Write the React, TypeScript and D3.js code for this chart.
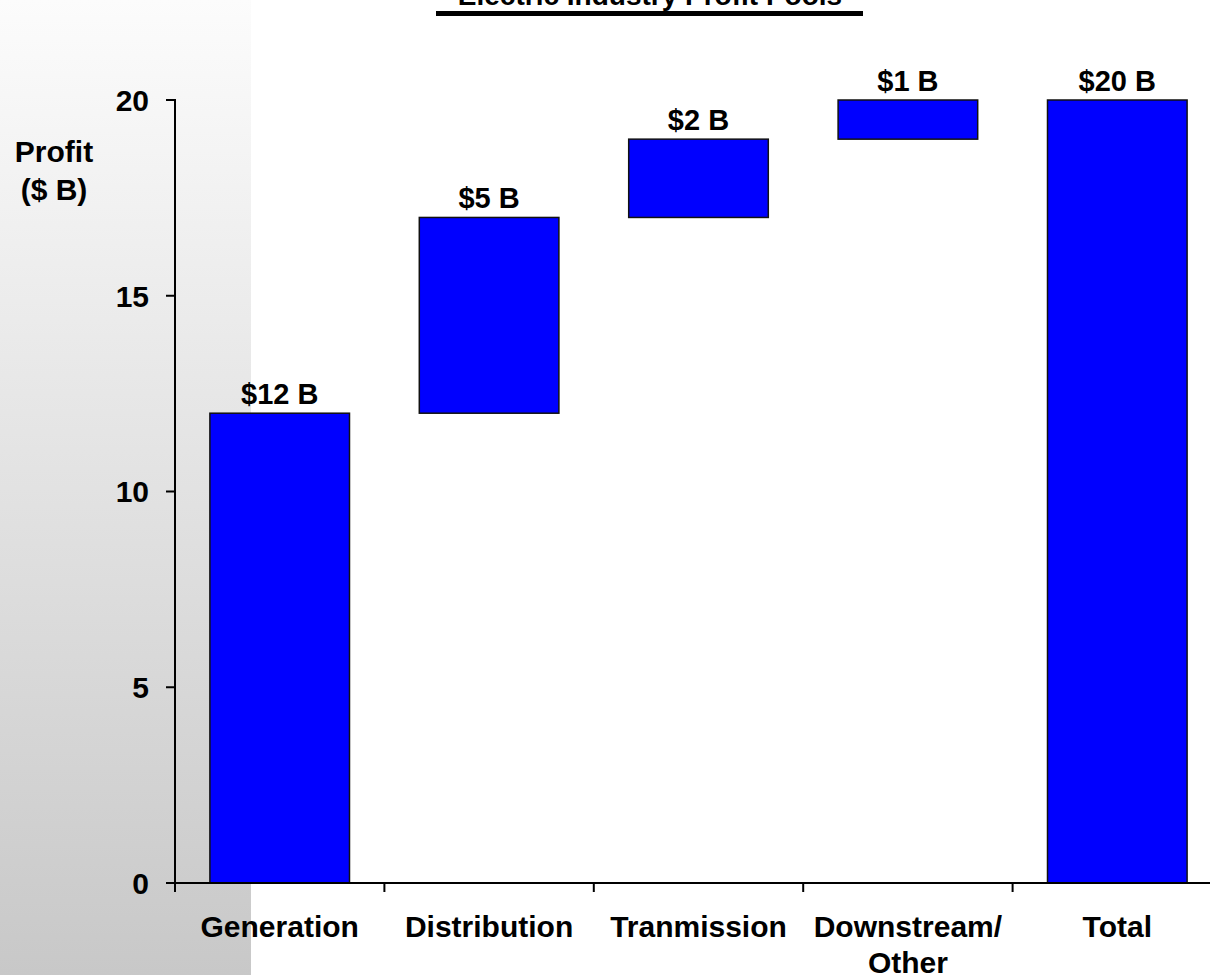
import React from "react";
import * as d3 from "d3";

// Waterfall data: each segment's profit contribution, plus the total bar
const categories: string[] = ["Generation", "Distribution", "Tranmission", "Downstream/\nOther", "Total"];
const values: number[] = [12, 5, 2, 1, 20];
const isTotal: boolean[] = [false, false, false, false, true];
const yTicks: number[] = [0, 5, 10, 15, 20];
const valueLabels: string[] = ["$12 B", "$5 B", "$2 B", "$1 B", "$20 B"];

const W = 1210;
const H = 975;
const FONT = "'Liberation Sans', Arial, Helvetica, sans-serif";

export default function App() {
  const x = d3
    .scaleBand<string>()
    .domain(categories)
    .range([175, 1222])
    .paddingInner(1 / 3)
    .paddingOuter(1 / 6);
  const y = d3.scaleLinear().domain([0, 20]).range([883, 100]);

  // running cumulative start/end for each waterfall step
  let running = 0;
  const bars = categories.map((c, i) => {
    let lo: number, hi: number;
    if (isTotal[i]) {
      lo = 0;
      hi = values[i];
    } else {
      lo = running;
      hi = running + values[i];
      running = hi;
    }
    return { c, lo, hi, label: valueLabels[i] };
  });

  const step = x.step();
  const x0 = 175;
  const tickXs = categories.map((_, i) => x0 + i * step);

  return (
    <svg
      width={W}
      height={H}
      style={{ position: "absolute", left: 0, top: 0, display: "block", background: "#fff" }}
      fontFamily={FONT}
    >
      <defs>
        <linearGradient id="sideShade" x1="0" y1="0" x2="0" y2="1">
          <stop offset="0" stopColor="#fcfcfc" />
          <stop offset="0.5" stopColor="#e2e2e2" />
          <stop offset="1" stopColor="#c8c8c8" />
        </linearGradient>
      </defs>
      <rect x={0} y={0} width={251} height={H} fill="url(#sideShade)" />

      {/* title */}
      <text x={650} y={5} textAnchor="middle" fontSize={28} fontWeight="bold" fill="#000">
        Electric Industry Profit Pools
      </text>
      <rect x={436} y={11} width={427} height={5} fill="#000" />

      {/* y axis label */}
      <text x={54} y={162} textAnchor="middle" fontSize={30} fontWeight="bold" fill="#000">
        Profit
      </text>
      <text x={54} y={200} textAnchor="middle" fontSize={30} fontWeight="bold" fill="#000">
        ($ B)
      </text>

      {/* bars */}
      {bars.map((b) => (
        <g key={b.c}>
          <rect
            x={x(b.c)!}
            y={y(b.hi)}
            width={x.bandwidth()}
            height={y(b.lo) - y(b.hi)}
            fill="#0000ff"
            stroke="#111"
            strokeWidth={1.5}
          />
          <text
            x={x(b.c)! + x.bandwidth() / 2}
            y={y(b.hi) - 9}
            textAnchor="middle"
            fontSize={29}
            fontWeight="bold"
            fill="#000"
          >
            {b.label}
          </text>
        </g>
      ))}

      {/* y axis */}
      <line x1={175} x2={175} y1={y(20) - 1} y2={y(0)} stroke="#000" strokeWidth={2} />
      {yTicks.map((t) => (
        <g key={t}>
          <line x1={166} x2={175} y1={y(t)} y2={y(t)} stroke="#000" strokeWidth={2} />
          <text
            x={149}
            y={y(t)}
            dy="0.36em"
            textAnchor="end"
            fontSize={30}
            fontWeight="bold"
            fill="#000"
          >
            {t}
          </text>
        </g>
      ))}

      {/* x axis */}
      <line x1={175} x2={W} y1={y(0)} y2={y(0)} stroke="#000" strokeWidth={2} />
      {tickXs.map((tx, i) => (
        <line key={i} x1={tx} x2={tx} y1={y(0)} y2={y(0) + 9} stroke="#000" strokeWidth={2} />
      ))}
      {categories.map((c) => {
        const lines = c.split("\n");
        return (
          <text
            key={c}
            x={x(c)! + x.bandwidth() / 2}
            y={937}
            textAnchor="middle"
            fontSize={30}
            fontWeight="bold"
            fill="#000"
          >
            {lines.map((ln, j) => (
              <tspan key={j} x={x(c)! + x.bandwidth() / 2} dy={j === 0 ? 0 : 36}>
                {ln}
              </tspan>
            ))}
          </text>
        );
      })}
    </svg>
  );
}
